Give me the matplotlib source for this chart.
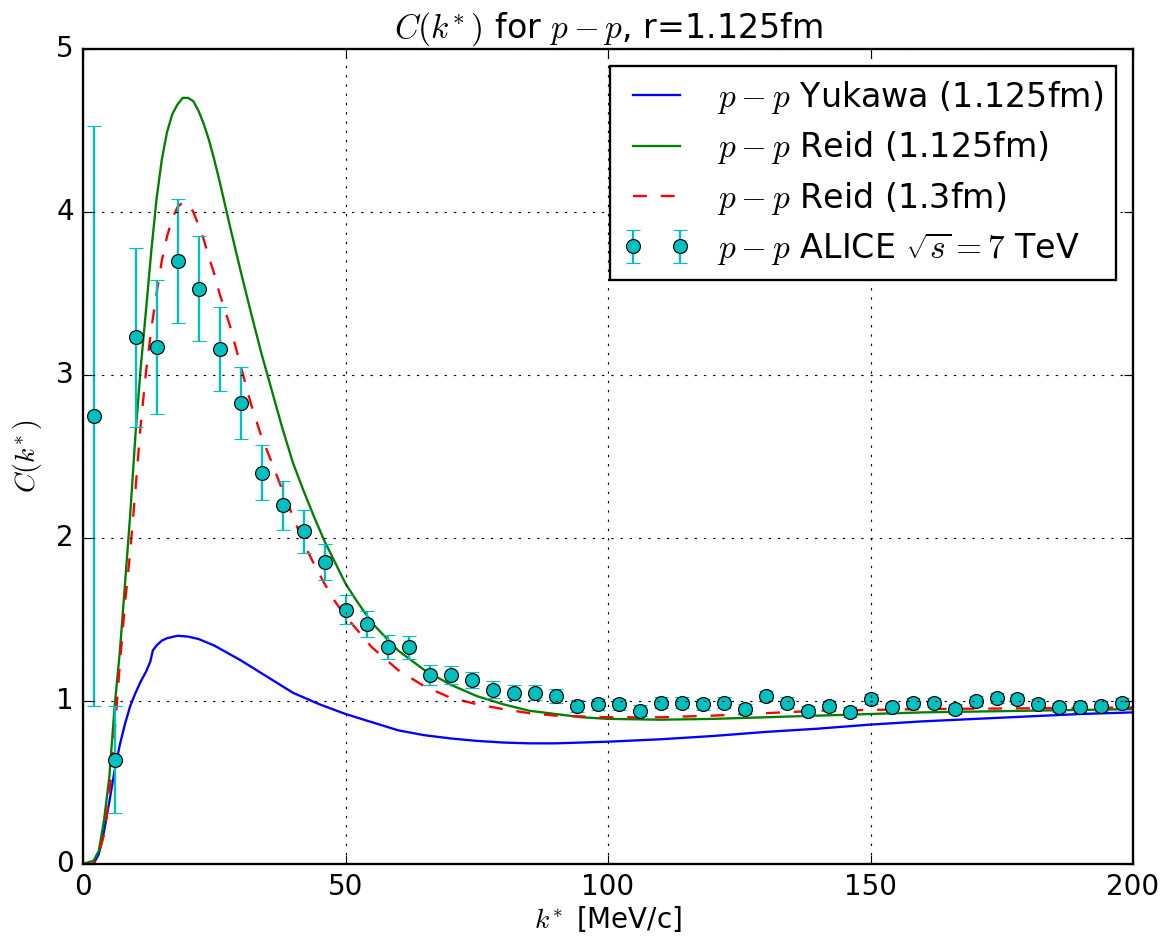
import matplotlib
matplotlib.use("Agg")
import matplotlib.pyplot as plt

# ---- ALICE p-p data (k* in MeV/c) ----
data_k = [2, 6, 10, 14, 18, 22, 26, 30, 34, 38, 42, 46, 50, 54, 58, 62, 66, 70, 74, 78,
          82, 86, 90, 94, 98, 102, 106, 110, 114, 118, 122, 126, 130, 134, 138, 142, 146, 150,
          154, 158, 162, 166, 170, 174, 178, 182, 186, 190, 194, 198]
data_c = [2.75, 0.64, 3.23, 3.17, 3.70, 3.53, 3.16, 2.83, 2.40, 2.20, 2.04, 1.85, 1.56, 1.47,
          1.33, 1.33, 1.16, 1.16, 1.13, 1.07, 1.05, 1.05, 1.03, 0.97, 0.98, 0.98, 0.94, 0.99,
          0.99, 0.98, 0.99, 0.95, 1.03, 0.99, 0.94, 0.97, 0.93, 1.01, 0.96, 0.99, 0.99, 0.95,
          1.00, 1.02, 1.01, 0.98, 0.96, 0.96, 0.97, 0.99]
data_err = [1.78, 0.33, 0.55, 0.41, 0.38, 0.32, 0.26, 0.22, 0.17, 0.15, 0.13, 0.11, 0.09, 0.08,
            0.074, 0.07, 0.06, 0.055, 0.05, 0.05, 0.047, 0.045, 0.045, 0.037, 0.035, 0.035,
            0.035, 0.034, 0.034, 0.033, 0.033, 0.033, 0.032, 0.032, 0.031, 0.031, 0.031, 0.03,
            0.03, 0.03, 0.03, 0.03, 0.03, 0.03, 0.03, 0.03, 0.03, 0.03, 0.03, 0.03]

# ---- Yukawa, r = 1.125 fm ----
yuk_k = [0, 2, 3, 4, 5, 6, 7, 8, 9, 10, 11, 12, 12.8, 13.3, 14, 15, 16, 18, 20, 22, 25, 30,
         35, 40, 45, 50, 55, 60, 65, 70, 75, 80, 85, 90, 100, 110, 120, 130, 140, 150, 160,
         170, 180, 190, 200]
yuk_c = [0.0, 0.0, 0.06, 0.2, 0.38, 0.57, 0.73, 0.86, 0.97, 1.05, 1.12, 1.18, 1.24, 1.31, 1.34,
         1.37, 1.385, 1.40, 1.395, 1.38, 1.34, 1.25, 1.15, 1.05, 0.98, 0.92, 0.87, 0.82, 0.79,
         0.77, 0.755, 0.745, 0.74, 0.74, 0.75, 0.765, 0.785, 0.81, 0.83, 0.855, 0.875, 0.89,
         0.905, 0.92, 0.93]

# ---- Reid, r = 1.125 fm ----
reid_k = [0, 2, 3, 4, 5, 6, 7, 8, 9, 10, 11, 12, 13, 14, 15, 16, 17, 18, 19, 20, 21, 22, 23,
          24, 25, 26, 27, 28, 30, 32, 34, 36, 38, 40, 42, 44, 46, 48, 50, 52, 55, 60, 65, 70,
          75, 80, 85, 90, 95, 100, 110, 120, 130, 140, 150, 160, 170, 180, 190, 200]
reid_c = [0.0, 0.02, 0.08, 0.27, 0.53, 0.96, 1.30, 1.72, 2.15, 2.64, 3.05, 3.40, 3.76, 4.08,
          4.32, 4.49, 4.60, 4.66, 4.70, 4.70, 4.68, 4.62, 4.54, 4.44, 4.32, 4.19, 4.05, 3.91,
          3.64, 3.38, 3.13, 2.90, 2.67, 2.46, 2.29, 2.13, 1.98, 1.85, 1.72, 1.62, 1.48, 1.31,
          1.19, 1.10, 1.03, 0.98, 0.94, 0.92, 0.90, 0.89, 0.885, 0.89, 0.90, 0.91, 0.92, 0.93,
          0.935, 0.94, 0.945, 0.95]

# ---- Reid, r = 1.3 fm ----
reid13_k = [0, 2, 3, 4, 5, 6, 7, 8, 9, 10, 11, 12, 13, 14, 15, 16, 17, 18, 19, 20, 21, 22, 23,
            24, 25, 26, 28, 30, 32, 34, 36, 38, 40, 42, 44, 46, 48, 50, 55, 60, 65, 70, 75, 80,
            85, 90, 100, 110, 120, 130, 140, 150, 160, 180, 200]
reid13_c = [0.0, 0.0, 0.06, 0.18, 0.42, 0.80, 1.22, 1.60, 1.92, 2.30, 2.70, 3.02, 3.28, 3.50,
            3.70, 3.85, 3.96, 4.03, 4.06, 4.05, 4.00, 3.92, 3.83, 3.72, 3.62, 3.50, 3.30, 3.06,
            2.82, 2.62, 2.46, 2.29, 2.13, 1.97, 1.84, 1.72, 1.61, 1.52, 1.33, 1.19, 1.09, 1.02,
            0.98, 0.95, 0.925, 0.91, 0.90, 0.90, 0.91, 0.925, 0.94, 0.945, 0.95, 0.955, 0.96]


def main():
    plt.style.use("classic")
    plt.rcParams["savefig.facecolor"] = "white"

    dpi = 500 / 3
    fig = plt.figure(figsize=(1163 / dpi, 940 / dpi), dpi=dpi, facecolor="white")
    ax = fig.add_axes([0.0714, 0.0809, 0.9028, 0.867])

    ax.plot(yuk_k, yuk_c, "b-", label=r"$p-p$ Yukawa (1.125fm)")
    ax.plot(reid_k, reid_c, "g-", label=r"$p-p$ Reid (1.125fm)")
    ax.plot(reid13_k, reid13_c, "r--", label=r"$p-p$ Reid (1.3fm)")
    ax.errorbar(data_k, data_c, yerr=data_err, fmt="o", color="c", mfc="c", mec="k",
                ecolor="c", capsize=3, label=r"$p-p$ ALICE $\sqrt{s}=7$ TeV")

    ax.set_xlim(0, 200)
    ax.set_ylim(0, 5)
    ax.set_title(r"$C(k^{\!*})$ for $p-p$, r=1.125fm")
    ax.set_xlabel(r"$k^{\!*}$ [MeV/c]", labelpad=1)
    ax.set_ylabel(r"$C(k^{\!*})$")
    ax.grid(True)
    ax.legend(loc="upper right", labelspacing=0.4)

    fig.savefig("out.png", dpi=dpi, facecolor="white")
    plt.close(fig)


if __name__ == "__main__":
    main()
